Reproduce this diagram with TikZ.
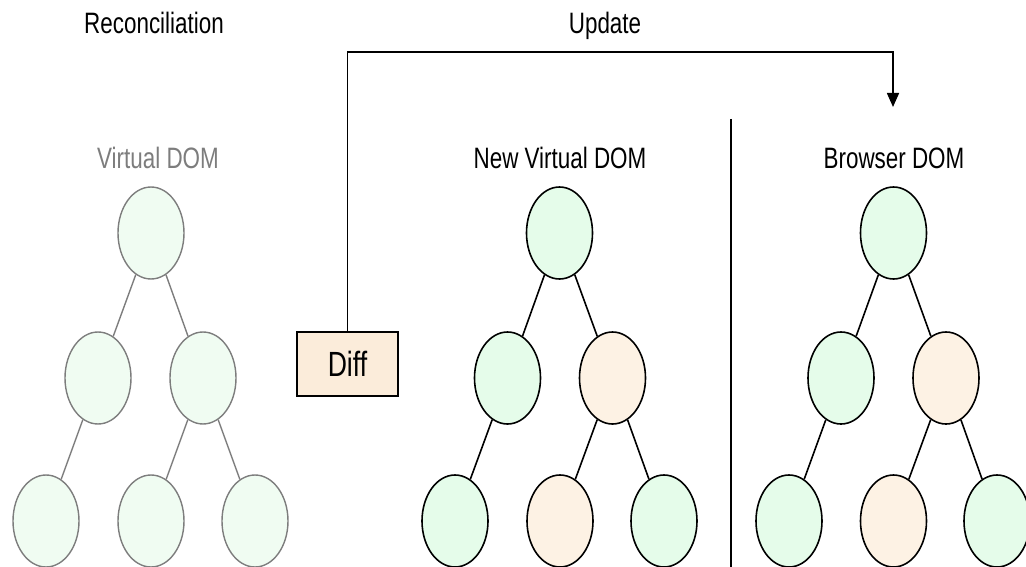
\documentclass[tikz,border=0pt]{standalone}
\usepackage{fontspec}
\setmainfont{Liberation Sans}[FakeStretch=0.76]
\usetikzlibrary{shapes.geometric,arrows.meta}

\definecolor{nodegreen}{RGB}{229,252,234}
\definecolor{oldgreen}{RGB}{240,252,242}
\definecolor{nodebeige}{RGB}{253,242,228}
\definecolor{diffbeige}{RGB}{251,236,218}
\definecolor{oldgrey}{RGB}{125,125,125}

\tikzset{every picture/.style={line width=1.6pt}}
\tikzset{
  domnode/.style={ellipse, draw=black, fill=nodegreen, minimum width=66, minimum height=92, inner sep=0pt},
  chgnode/.style={domnode, fill=nodebeige},
  oldnode/.style={domnode, draw=oldgrey, fill=oldgreen, line width=1.4pt},
  treeedge/.style={draw=black, line width=1.6pt},
  oldedge/.style={draw=oldgrey, line width=1.4pt},
  titletext/.style={anchor=base, font=\fontsize{29.5}{34}\selectfont},
}

\begin{document}
\begin{tikzpicture}[x=1pt,y=1pt,yscale=-1,xscale=1]
\useasboundingbox (0,0) rectangle (1026,567);

% Text Node
\node [titletext] (recon) at (154,34) {Reconciliation};
% Text Node
\node [titletext] (update) at (605,34) {Update};

% Text Node
\node [titletext, text=oldgrey] (vtitle) at (158,168) {Virtual DOM};
% Text Node
\node [titletext] (ntitle) at (560,168) {New Virtual DOM};
% Text Node
\node [titletext] (btitle) at (894,168) {Browser DOM};

%Virtual DOM tree
\node [oldnode] (v1) at (151,233) {};
\node [oldnode] (v2) at (98,378) {};
\node [oldnode] (v3) at (203,378) {};
\node [oldnode] (v4) at (46,521) {};
\node [oldnode] (v5) at (151,521) {};
\node [oldnode] (v6) at (255,521) {};
% Connection
\draw [oldedge] (v1) -- (v2) (v1) -- (v3) (v2) -- (v4) (v3) -- (v5) (v3) -- (v6);

%New Virtual DOM tree
\node [domnode] (n1) at (559.5,233) {};
\node [domnode] (n2) at (507.5,378) {};
\node [chgnode] (n3) at (612.5,378) {};
\node [domnode] (n4) at (455,521) {};
\node [chgnode] (n5) at (560,521) {};
\node [domnode] (n6) at (664,521) {};
% Connection
\draw [treeedge] (n1) -- (n2) (n1) -- (n3) (n2) -- (n4) (n3) -- (n5) (n3) -- (n6);

%Browser DOM tree
\node [domnode] (b1) at (893.5,233) {};
\node [domnode] (b2) at (841,378) {};
\node [chgnode] (b3) at (946,378) {};
\node [domnode] (b4) at (789,521) {};
\node [chgnode] (b5) at (893.5,521) {};
\node [domnode] (b6) at (997,521) {};
% Connection
\draw [treeedge] (b1) -- (b2) (b1) -- (b3) (b2) -- (b4) (b3) -- (b5) (b3) -- (b6);

% Text Node
\node [draw, fill=diffbeige, minimum width=101, minimum height=64, inner sep=0pt, font=\fontsize{35}{40}\selectfont] (diff) at (347.5,364) {Diff};

%Straight Lines
\coordinate (updcorner) at (893,52);
\coordinate (updtip) at (893,107);
\draw [-{Triangle[length=14pt,width=12pt]}] (diff.north) |- (updcorner) -- (updtip);

%Straight Lines
\coordinate (divtop) at (731,119);
\coordinate (divbot) at (731,567);
\draw (divtop) -- (divbot);

\end{tikzpicture}
\end{document}
